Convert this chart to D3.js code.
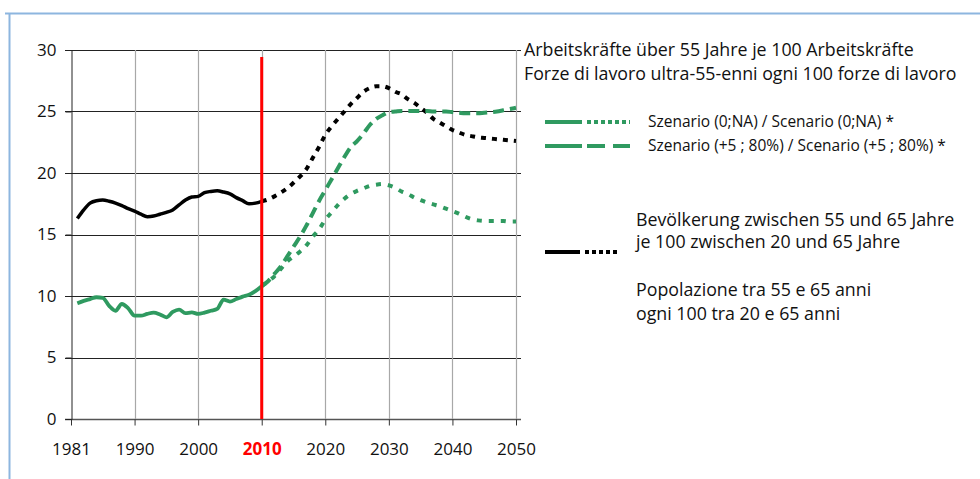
<!DOCTYPE html>
<html><head><meta charset="utf-8">
<script src="https://cdn.jsdelivr.net/npm/d3@7"></script>
<style>body{margin:0;background:#fff;} svg{display:block;font-family:"Open Sans",sans-serif;}</style>
</head><body><svg id="c" width="980" height="479"></svg>
<script>
// ---------- data ----------
const histYears = [1981,1982,1983,1984,1985,1986,1987,1988,1989,1990,1991,1992,1993,1994,1995,1996,1997,1998,1999,2000,2001,2002,2003,2004,2005,2006,2007,2008,2009,2010];
const popHist = [16.3,17.0,17.55,17.75,17.8,17.7,17.55,17.35,17.1,16.9,16.65,16.45,16.5,16.65,16.8,17.0,17.4,17.8,18.05,18.1,18.4,18.5,18.55,18.45,18.3,18.0,17.75,17.5,17.55,17.7];
const workHist = [9.4,9.6,9.75,9.9,9.85,9.2,8.8,9.35,9.0,8.4,8.4,8.55,8.65,8.5,8.27,8.7,8.9,8.6,8.67,8.55,8.65,8.8,8.95,9.7,9.55,9.75,9.95,10.1,10.4,10.8];
const projYears = [2010,2011,2012,2013,2014,2015,2016,2017,2018,2019,2020,2021,2022,2023,2024,2025,2026,2027,2028,2029,2030,2031,2032,2033,2034,2035,2036,2037,2038,2039,2040,2041,2042,2043,2044,2045,2046,2047,2048,2049,2050];
const popProj = [17.7,17.85,18.1,18.4,18.75,19.2,19.7,20.3,21.2,22.1,23.1,23.8,24.4,25.0,25.6,26.1,26.6,26.9,27.05,27.05,26.9,26.6,26.4,26.0,25.7,25.3,24.9,24.4,24.1,23.8,23.5,23.3,23.1,23.0,22.9,22.85,22.8,22.75,22.7,22.65,22.6];
const scen0NA = [10.8,11.2,11.6,12.2,12.8,13.2,13.6,14.1,14.8,15.4,16.2,16.8,17.4,17.9,18.3,18.55,18.75,18.95,19.05,19.1,19.0,18.8,18.5,18.3,18.0,17.8,17.6,17.45,17.3,17.1,16.9,16.7,16.45,16.25,16.15,16.1,16.1,16.1,16.1,16.05,16.05];
const scen580 = [10.8,11.2,11.8,12.4,13.2,14.0,14.8,15.7,16.7,17.7,18.6,19.5,20.4,21.3,22.1,22.6,23.2,23.9,24.4,24.7,24.95,25.0,25.05,25.05,25.05,25.05,25.05,25.0,25.0,25.0,24.95,24.9,24.85,24.85,24.85,24.9,24.95,25.0,25.1,25.2,25.3];
const yTicks = [0,5,10,15,20,25,30];
const xTickValues = [1980,1990,2000,2010,2020,2030,2040,2050];
const xTickLabels = ["1981","1990","2000","2010","2020","2030","2040","2050"];
const markerYear = 2010;
const titleLines = ["Arbeitskräfte über 55 Jahre je 100 Arbeitskräfte","Forze di lavoro ultra-55-enni ogni 100 forze di lavoro"];
const legendScen = ["Szenario (0;NA) / Scenario (0;NA) *","Szenario (+5 ; 80%) / Scenario (+5 ; 80%) *"];
const legendPopDE = ["Bevölkerung zwischen 55 und 65 Jahre","je 100 zwischen 20 und 65 Jahre"];
const legendPopIT = ["Popolazione tra 55 e 65 anni","ogni 100 tra 20 e 65 anni"];

// ---------- layout ----------
const GREEN = "#2f9a60";
const svg = d3.select("#c");
const x = d3.scaleLinear().domain([1980, 2050]).range([71, 516]);
const y = d3.scaleLinear().domain([0, 30]).range([419, 50]);
const plotRight = 521;

// frame
svg.append("path").attr("d","M5,13.5H980M9.5,13V479").attr("fill","none").attr("stroke","#8db6df").attr("stroke-width",2);

// horizontal grid
svg.append("g").selectAll("line").data(yTicks).join("line")
  .attr("x1",65).attr("x2",plotRight)
  .attr("y1",d=>Math.round(y(d))+0.5).attr("y2",d=>Math.round(y(d))+0.5)
  .attr("stroke",d=>d===0?"#555":"#222").attr("stroke-width",d=>d===0?1.6:1);
// vertical grid
svg.append("g").selectAll("line").data(xTickValues.slice(1)).join("line")
  .attr("x1",d=>Math.round(x(d))+0.5).attr("x2",d=>Math.round(x(d))+0.5)
  .attr("y1",y(30)).attr("y2",y(0))
  .attr("stroke","#a8a8a8").attr("stroke-width",1.2);

// axes
const yAxis = svg.append("g").attr("transform",`translate(${Math.round(x(1980))+0.5},0)`)
  .call(d3.axisLeft(y).tickValues(yTicks).tickSize(6).tickPadding(9));
yAxis.select(".domain").attr("stroke","#222");
yAxis.selectAll("line").attr("stroke","#222");
yAxis.selectAll("text").attr("font-size",17).attr("fill","#111").attr("font-family","Open Sans");

const xAxis = svg.append("g").attr("transform",`translate(0,${Math.round(y(0))+0.5})`)
  .call(d3.axisBottom(x).tickValues(xTickValues).tickSize(6).tickPadding(17)
    .tickFormat((d,i)=>xTickLabels[i]));
xAxis.select(".domain").remove();
xAxis.selectAll("line").attr("stroke","#333");
xAxis.selectAll("text").attr("font-size",17).attr("fill","#111").attr("font-family","Open Sans")
  .filter(d=>d===markerYear).attr("fill","#ff0000").attr("font-weight","bold");

// lines
const line = d3.line().curve(d3.curveMonotoneX);
function draw(years, vals, color, dash, w){
  svg.append("path").attr("d", line(years.map((yr,i)=>[x(yr), y(vals[i])])))
    .attr("fill","none").attr("stroke",color).attr("stroke-width",w)
    .attr("stroke-dasharray",dash).attr("stroke-linejoin","round");
}
draw(histYears, popHist, "#000", null, 3.5);
draw(histYears, workHist, GREEN, null, 3.8);
draw(projYears, popProj, "#000", "5,6", 4);
draw(projYears, scen0NA, GREEN, "5,7", 4);
draw(projYears, scen580, GREEN, "11,6", 4);

// red marker
svg.append("line").attr("x1",x(markerYear)).attr("x2",x(markerYear)).attr("y1",57).attr("y2",y(0))
  .attr("stroke","#ff0000").attr("stroke-width",3);

// title
svg.append("text").attr("font-size",17.8).attr("fill","#111")
  .selectAll("tspan").data(titleLines).join("tspan")
  .attr("x",524).attr("y",(d,i)=>56+i*24).text(d=>d);

// legend scenarios
const lg = svg.append("g");
[[122,null],[146,"dash"]].forEach(([ly,kind],i)=>{
  lg.append("line").attr("x1",545).attr("x2",582).attr("y1",ly).attr("y2",ly).attr("stroke",GREEN).attr("stroke-width",4);
  lg.append("line").attr("x1",587).attr("x2",630).attr("y1",ly).attr("y2",ly).attr("stroke",GREEN).attr("stroke-width",4)
    .attr("stroke-dasharray", i===0 ? "4,3" : "18,8");
  lg.append("text").attr("x",648).attr("y",ly+5).attr("font-size",15.5).attr("fill","#111").text(legendScen[i]);
});
// legend population
lg.append("line").attr("x1",545).attr("x2",580).attr("y1",252).attr("y2",252).attr("stroke","#000").attr("stroke-width",4);
lg.append("line").attr("x1",585).attr("x2",620).attr("y1",252).attr("y2",252).attr("stroke","#000").attr("stroke-width",4).attr("stroke-dasharray","4,3");
lg.append("text").attr("font-size",17.8).attr("fill","#111")
  .selectAll("tspan").data(legendPopDE).join("tspan").attr("x",636).attr("y",(d,i)=>226+i*22).text(d=>d);
lg.append("text").attr("font-size",17.8).attr("fill","#111")
  .selectAll("tspan").data(legendPopIT).join("tspan").attr("x",636).attr("y",(d,i)=>296+i*24).text(d=>d);
</script></body></html>
